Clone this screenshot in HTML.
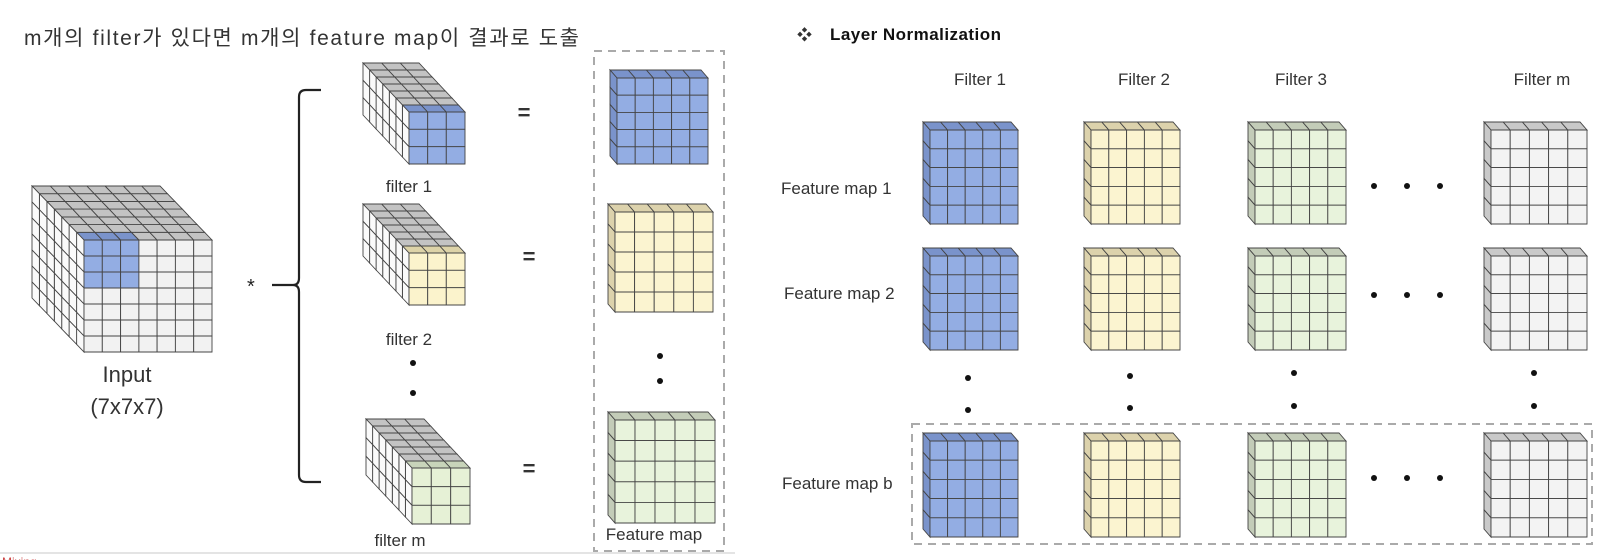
<!DOCTYPE html>
<html><head><meta charset="utf-8"><style>
html,body{margin:0;padding:0;background:#fff;width:1606px;height:560px;overflow:hidden}
svg{display:block}
text{font-family:"Liberation Sans","Noto Sans CJK KR",sans-serif;fill:#333}
</style></head><body>
<svg id="s" width="1606" height="560" viewBox="0 0 1606 560" xmlns="http://www.w3.org/2000/svg">
<text x="24" y="45" font-size="21" textLength="555">m개의 filter가 있다면 m개의 feature map이 결과로 도출</text>
<text x="797" y="40" font-size="15" fill="#222">❖</text>
<text x="830" y="40" font-size="17" font-weight="bold" textLength="171" style="fill:#111">Layer Normalization</text>
<g font-size="17" text-anchor="middle">
<text x="980" y="85">Filter 1</text><text x="1144" y="85">Filter 2</text><text x="1301" y="85">Filter 3</text><text x="1542" y="85">Filter m</text>
<text x="409" y="192">filter 1</text><text x="409" y="345">filter 2</text><text x="400" y="546">filter m</text>
<text x="654" y="540">Feature map</text>
</g>
<g font-size="17">
<text x="781" y="194">Feature map 1</text><text x="784" y="299">Feature map 2</text><text x="782" y="489">Feature map b</text>
</g>
<g font-size="22" text-anchor="middle">
<text x="127" y="382">Input</text><text x="127" y="414">(7x7x7)</text>
</g>
<text x="247" y="293" font-size="20" style="fill:#222">*</text>
<path d="M321,90 H306 Q299,90 299,97 V278 Q299,285 293,285 H272 M293,285 Q299,285 299,292 V475 Q299,482 306,482 H321" fill="none" stroke="#222" stroke-width="2.2"/>
<g style="fill:#222" font-size="22" font-weight="bold" text-anchor="middle">
<text x="524" y="120">=</text><text x="529" y="264">=</text><text x="529" y="476">=</text>
</g>
<rect x="594" y="51" width="130" height="500" fill="none" stroke="#aaa" stroke-width="2" stroke-dasharray="8,6"/>
<rect x="912" y="424" width="680" height="120" fill="none" stroke="#aaa" stroke-width="2" stroke-dasharray="8,6"/>
<line x1="0" y1="553" x2="735" y2="553" stroke="#e4e4e4" stroke-width="2"/>
<text x="2" y="566" font-size="12" style="fill:#c44">Mixing</text>
<g id="g"></g>
</svg>
<script>
var g=document.getElementById('g'),h='';
function poly(p,f){h+='<polygon points="'+p.map(function(a){return a[0].toFixed(1)+','+a[1].toFixed(1)}).join(' ')+'" fill="'+f+'" stroke="#444" stroke-width="0.9"/>';}
function box(x,y,w,H,nx,ny,nz,dx,dy,front,top,left){
 var cw=w/nx,ch=H/ny,ex=dx/nz,ey=dy/nz,i,j;
 for(j=0;j<nz;j++)for(i=0;i<nx;i++){var bx=x+i*cw+j*ex,by=y+j*ey;
  poly([[bx,by],[bx+cw,by],[bx+cw+ex,by+ey],[bx+ex,by+ey]],top(i,j));}
 for(j=0;j<nz;j++)for(i=0;i<ny;i++){var bx=x+j*ex,by=y+i*ch+j*ey;
  poly([[bx,by],[bx,by+ch],[bx+ex,by+ch+ey],[bx+ex,by+ey]],left(i,j));}
 for(j=0;j<ny;j++)for(i=0;i<nx;i++)poly([[x+i*cw,y+j*ch],[x+(i+1)*cw,y+j*ch],[x+(i+1)*cw,y+(j+1)*ch],[x+i*cw,y+(j+1)*ch]],front(i,j));
}
var BL='#93ade3',BLT='#7a93cb',GR='#c3c3c3',WH='#f2f2f2',WL='#fafafa';
// input cube
box(84,240,128,112,7,7,7,-52,-54,function(i,j){return(i<3&&j<3)?BL:WH},function(i,j){return(j==0&&i<3)?BLT:GR},function(){return WL});
// filters
var fc=[[BL,BLT],['#fbf3cc','#ddd3a8'],['#e6f1d6','#c8d4ba']];
var fp=[[409,112,56,52],[409,253,56,52],[412,468,58,56]];
fp.forEach(function(p,k){box(p[0],p[1],p[2],p[3],3,3,7,-46,-49,function(){return fc[k][0]},function(i,j){return j==0?fc[k][1]:GR},function(){return WL});});
// slabs
function slab(x0,y0,x1,y1,c){box(x0+7,y0+8,x1-x0-7,y1-y0-8,5,5,1,-7,-8,function(){return c[0]},function(){return c[1]},function(){return c[1]});}
var sc=[[BL,BLT],['#fbf4d0','#dcd2ac'],['#e8f3dc','#c3ccb8'],['#f3f3f3','#c9c9c9']];
slab(610,70,708,164,sc[0]);slab(608,204,713,312,sc[1]);slab(608,412,715,523,sc[2]);
var cx=[[923,1018],[1084,1180],[1248,1346],[1484,1587]],ry=[[122,224],[248,350],[433,537]];
ry.forEach(function(r){cx.forEach(function(c,k){slab(c[0],r[0],c[1],r[1],sc[k]);});});
// dots
var d=[[413,363],[413,393],[660,356],[660,381],[968,378],[968,410],[1130,376],[1130,408],[1294,373],[1294,406],[1534,373],[1534,406]];
[186,295,478].forEach(function(y){[1374,1407,1440].forEach(function(x){d.push([x,y]);});});
d.forEach(function(p){h+='<circle cx="'+p[0]+'" cy="'+p[1]+'" r="3" fill="#111"/>';});
g.innerHTML=h;
</script>
</body></html>
